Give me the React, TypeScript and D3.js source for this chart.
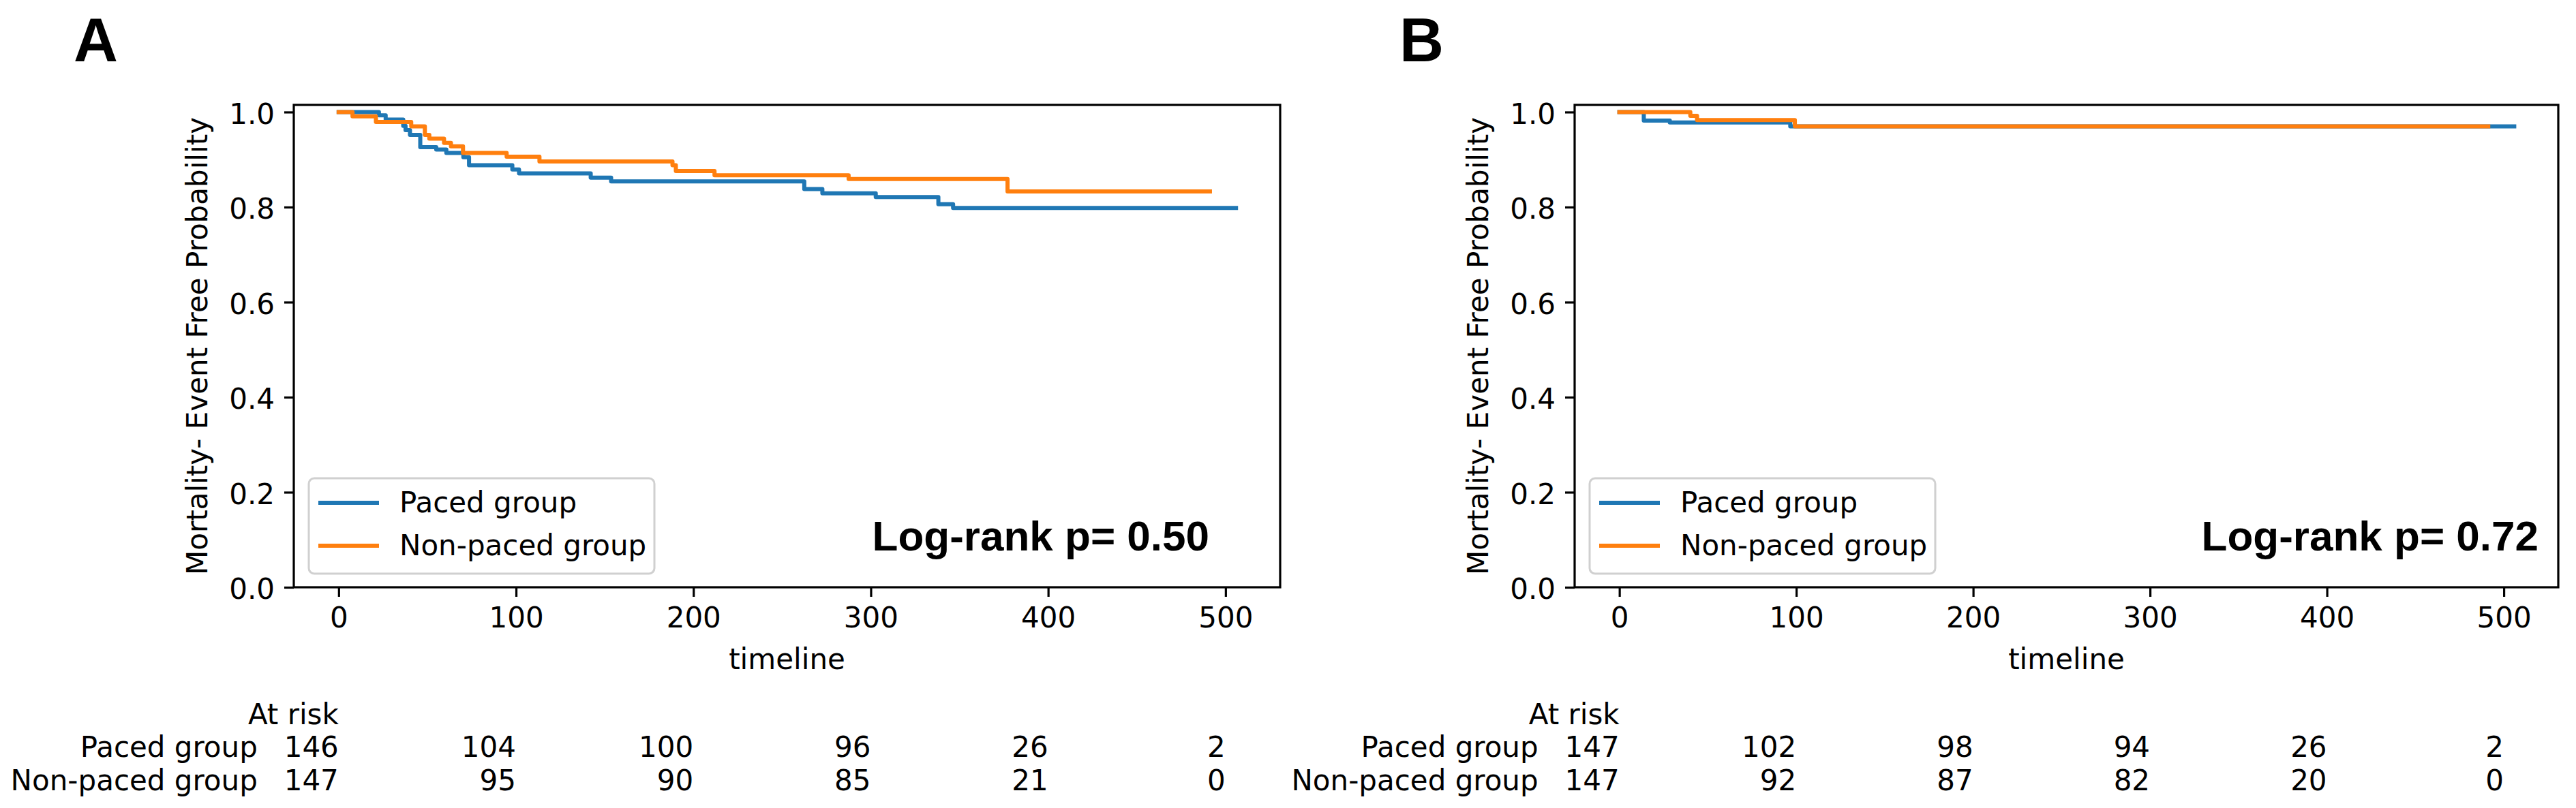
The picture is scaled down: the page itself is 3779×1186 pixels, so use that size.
import React, { useRef, useEffect } from 'react';
import * as d3 from 'd3';

const W = 3779;
const H = 1186;

const timeTicks = [0, 100, 200, 300, 400, 500];
const probTicks = [0, 0.2, 0.4, 0.6, 0.8, 1.0];
const groupNames = ['Paced group', 'Non-paced group'];

// Panel A - step curves (time, survival)
const aPacedTime = [0, 22.7, 26.5, 36.4, 37.7, 40.2, 46.0, 55.0, 60.7, 70.3, 73.5, 97.9, 101.7, 142.1, 153.6, 262.5, 272.7, 302.8, 338.1, 346.4, 505.9];
const aPacedSurv = [1.0, 0.993, 0.984, 0.971, 0.962, 0.952, 0.926, 0.921, 0.914, 0.905, 0.888, 0.879, 0.871, 0.862, 0.854, 0.838, 0.829, 0.821, 0.806, 0.798, 0.798];
const aNonPacedTime = [0, 7.8, 21.0, 40.9, 48.6, 51.1, 59.4, 63.3, 70.1, 94.7, 113.2, 188.2, 190.1, 211.9, 287.5, 377.1, 491.2];
const aNonPacedSurv = [1.0, 0.991, 0.979, 0.970, 0.952, 0.944, 0.935, 0.928, 0.914, 0.906, 0.896, 0.888, 0.876, 0.867, 0.859, 0.833, 0.833];
const aPacedAtRisk = [146, 104, 100, 96, 26, 2];
const aNonPacedAtRisk = [147, 95, 90, 85, 21, 0];
const aPValue = 'Log-rank p= 0.50';

// Panel B
const bPacedTime = [0, 13.8, 28.5, 96.6, 505.9];
const bPacedSurv = [1.0, 0.982, 0.978, 0.970, 0.970];
const bNonPacedTime = [0, 40.1, 43.9, 99.2, 491.2];
const bNonPacedSurv = [1.0, 0.992, 0.983, 0.970, 0.970];
const bPacedAtRisk = [147, 102, 98, 94, 26, 2];
const bNonPacedAtRisk = [147, 92, 87, 82, 20, 0];
const bPValue = 'Log-rank p= 0.72';

const BLUE = '#1f77b4';
const ORANGE = '#ff7f0e';
const MPL_FONT = '"DejaVu Sans", sans-serif';
const BOLD_FONT = '"Liberation Sans", Arial, sans-serif';
const FS = 42;

type Series = { time: number[]; surv: number[]; color: string };

type Panel = {
  label: string;
  labelX: number;
  left: number;
  right: number;
  series: Series[];
  atRisk: number[][];
  pText: string;
  pRight: number;
};

const panels: Panel[] = [
  {
    label: 'A', labelX: 108, left: 431, right: 1878,
    series: [
      { time: aPacedTime, surv: aPacedSurv, color: BLUE },
      { time: aNonPacedTime, surv: aNonPacedSurv, color: ORANGE },
    ],
    atRisk: [aPacedAtRisk, aNonPacedAtRisk],
    pText: aPValue, pRight: 1774,
  },
  {
    label: 'B', labelX: 2053, left: 2310, right: 3753,
    series: [
      { time: bPacedTime, surv: bPacedSurv, color: BLUE },
      { time: bNonPacedTime, surv: bNonPacedSurv, color: ORANGE },
    ],
    atRisk: [bPacedAtRisk, bNonPacedAtRisk],
    pText: bPValue, pRight: 3724,
  },
];

const TOP = 154;
const BOTTOM = 862;

function drawPanel(svg: d3.Selection<SVGSVGElement, unknown, null, undefined>, p: Panel) {
  const x = d3.scaleLinear().domain([-25.3, 530.8]).range([p.left, p.right]);
  const y = d3.scaleLinear().domain([0, 1.015]).range([BOTTOM, TOP]);
  const g = svg.append('g');

  // panel letter
  g.append('text')
    .attr('x', p.labelX).attr('y', 90)
    .attr('font-family', BOLD_FONT).attr('font-weight', 'bold').attr('font-size', 90)
    .text(p.label);

  // curves (step post)
  const line = d3.line<[number, number]>()
    .x(d => x(d[0]))
    .y(d => y(d[1]))
    .curve(d3.curveStepAfter);
  p.series.forEach(s => {
    const pts = s.time.map((t, i) => [t, s.surv[i]] as [number, number]);
    g.append('path')
      .attr('d', line(pts))
      .attr('fill', 'none')
      .attr('stroke', s.color)
      .attr('stroke-width', 6)
      .attr('stroke-linecap', 'square')
      .attr('stroke-linejoin', 'round');
  });

  // axes
  const xAxis = g.append('g')
    .attr('transform', `translate(0,${BOTTOM})`)
    .call(d3.axisBottom(x).tickValues(timeTicks).tickSize(14).tickPadding(15).tickFormat(d3.format('d')));
  const yAxis = g.append('g')
    .attr('transform', `translate(${p.left},0)`)
    .call(d3.axisLeft(y).tickValues(probTicks).tickSize(14).tickPadding(14).tickFormat(d3.format('.1f')));
  [xAxis, yAxis].forEach(a => {
    a.select('.domain').remove();
    a.selectAll('line').attr('stroke', '#000').attr('stroke-width', 3.2);
    a.selectAll('text').attr('font-family', MPL_FONT).attr('font-size', FS).attr('fill', '#000');
  });
  yAxis.selectAll('text').attr('dy', '0.4em');

  // frame
  g.append('rect')
    .attr('x', p.left).attr('y', TOP)
    .attr('width', p.right - p.left).attr('height', BOTTOM - TOP)
    .attr('fill', 'none').attr('stroke', '#000').attr('stroke-width', 3.2);

  // axis labels
  const midY = (TOP + BOTTOM) / 2;
  const ylx = p.left - 127;
  g.append('text')
    .attr('transform', `translate(${ylx},${midY}) rotate(-90)`)
    .attr('text-anchor', 'middle')
    .attr('font-family', MPL_FONT).attr('font-size', FS)
    .text('Mortality- Event Free Probability');
  g.append('text')
    .attr('x', (p.left + p.right) / 2).attr('y', 982)
    .attr('text-anchor', 'middle')
    .attr('font-family', MPL_FONT).attr('font-size', FS)
    .text('timeline');

  // legend
  const lx = p.left + 22;
  const leg = g.append('g');
  leg.append('rect')
    .attr('x', lx).attr('y', 702).attr('width', 507).attr('height', 140)
    .attr('rx', 8).attr('fill', '#fff').attr('fill-opacity', 0.8)
    .attr('stroke', '#d0d0d0').attr('stroke-width', 3);
  p.series.forEach((s, i) => {
    const cy = 738 + i * 63;
    leg.append('line')
      .attr('x1', lx + 17).attr('x2', lx + 100)
      .attr('y1', cy).attr('y2', cy)
      .attr('stroke', s.color).attr('stroke-width', 6).attr('stroke-linecap', 'square');
    leg.append('text')
      .attr('x', lx + 133).attr('y', cy + 14)
      .attr('font-family', MPL_FONT).attr('font-size', FS)
      .text(groupNames[i]);
  });

  // log-rank text
  g.append('text')
    .attr('x', p.pRight).attr('y', 808)
    .attr('text-anchor', 'end')
    .attr('font-family', BOLD_FONT).attr('font-weight', 'bold').attr('font-size', 62)
    .text(p.pText);

  // at risk table
  const x0 = x(0);
  g.append('text')
    .attr('x', x0).attr('y', 1063)
    .attr('text-anchor', 'end')
    .attr('font-family', MPL_FONT).attr('font-size', FS)
    .text('At risk');
  p.atRisk.forEach((row, r) => {
    const by = 1111 + r * 49;
    g.append('text')
      .attr('x', x0 - 119).attr('y', by)
      .attr('text-anchor', 'end')
      .attr('font-family', MPL_FONT).attr('font-size', FS)
      .text(groupNames[r]);
    row.forEach((v, k) => {
      g.append('text')
        .attr('x', x(timeTicks[k])).attr('y', by)
        .attr('text-anchor', 'end')
        .attr('font-family', MPL_FONT).attr('font-size', FS)
        .text(String(v));
    });
  });
}

function App() {
  const ref = useRef<SVGSVGElement | null>(null);

  useEffect(() => {
    const svg = d3.select(ref.current as SVGSVGElement);
    svg.selectAll('*').remove();
    svg.append('rect').attr('width', W).attr('height', H).attr('fill', '#fff');
    panels.forEach(p => drawPanel(svg, p));
  }, []);

  return (
    <svg
      ref={ref}
      width={W}
      height={H}
      style={{ position: 'absolute', left: 0, top: 0, display: 'block' }}
    />
  );
}

export default App;
